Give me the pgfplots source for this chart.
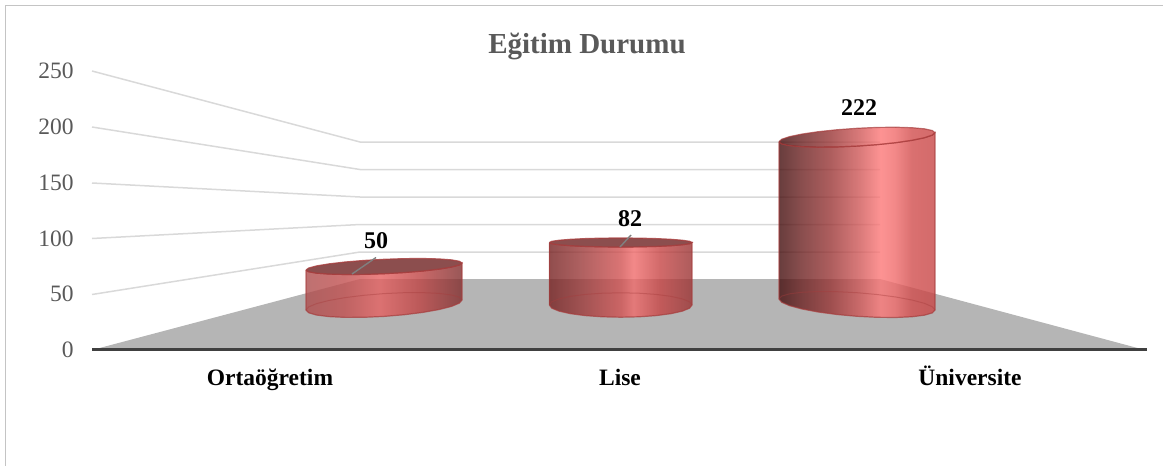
\documentclass[border=0pt]{standalone}
\usepackage{fontspec}
\setmainfont{Liberation Serif}
\usepackage{pgfplots}
\pgfplotsset{compat=1.18}
\definecolor{gridc}{HTML}{D9D9D9}
\definecolor{floorc}{HTML}{B5B5B5}
\definecolor{axisc}{HTML}{404040}
\definecolor{textc}{HTML}{595959}
\definecolor{framec}{HTML}{C4C4C4}
\definecolor{edgec}{HTML}{A63C3C}
\definecolor{topc}{HTML}{8C4E4E}
\definecolor{leadc}{HTML}{808080}
\pgfdeclarehorizontalshading{cylA}{100bp}{rgb(0bp)=(.68,.30,.30); rgb(25bp)=(.68,.30,.30); rgb(37.5bp)=(.76,.31,.31); rgb(48.5bp)=(.90,.38,.38); rgb(61.5bp)=(.74,.26,.26); rgb(75bp)=(.50,.18,.18); rgb(100bp)=(.50,.18,.18)}
\pgfdeclarehorizontalshading{cylB}{100bp}{rgb(0bp)=(.46,.13,.13); rgb(25bp)=(.46,.13,.13); rgb(35.5bp)=(.60,.22,.22); rgb(50bp)=(.82,.32,.32); rgb(54.5bp)=(.94,.42,.42); rgb(63.5bp)=(.78,.27,.27); rgb(75bp)=(.60,.20,.20); rgb(100bp)=(.60,.20,.20)}
\pgfdeclarehorizontalshading{cylC}{100bp}{rgb(0bp)=(.26,.05,.05); rgb(25bp)=(.26,.05,.05); rgb(32bp)=(.42,.13,.13); rgb(41.5bp)=(.60,.21,.21); rgb(51bp)=(.82,.35,.35); rgb(57.5bp)=(.99,.47,.47); rgb(62bp)=(.94,.42,.42); rgb(67.5bp)=(.82,.30,.30); rgb(75bp)=(.78,.27,.27); rgb(100bp)=(.78,.27,.27)}
\begin{document}
\begin{tikzpicture}
\path[use as bounding box] (0,0) rectangle (1163pt,466pt);
% perspective scene, in picture coordinates
\begin{axis}[
  at={(0,0)}, anchor=south west, scale only axis,
  width=1163pt, height=466pt,
  xmin=0, xmax=1163, ymin=0, ymax=466, y dir=reverse,
  hide axis,
  body/.style={fill opacity=.8, draw=edgec, draw opacity=.7, line width=1.2pt},
  back/.style={draw=edgec, draw opacity=.4, line width=1pt},
]
% frame
\addplot[framec, line width=1.6pt] coordinates {(5.5,466) (5.5,5.5) (1163,5.5)};
% floor
\addplot[fill=floorc, draw=none] coordinates {(92,350) (360,279) (880,279) (1145,350) (92,350)};
% gridlines
\addplot[gridc, line width=1.5pt] coordinates {(92,294.5) (360,252) (880,252)};
\addplot[gridc, line width=1.5pt] coordinates {(92,238.5) (360,224.5) (880,224.5)};
\addplot[gridc, line width=1.5pt] coordinates {(92,183) (360,197) (880,197)};
\addplot[gridc, line width=1.5pt] coordinates {(92,127) (360,169.5) (880,169.5)};
\addplot[gridc, line width=1.5pt] coordinates {(92,71) (360,142) (880,142)};
% Ortaogretim, 50
\addplot[shading=cylA, body] coordinates {(306,270) (306,310) (308.7,312.78) (316.5,315.03) (328.9,316.6) (345,317.37) (363.8,317.31) (384,316.4) (404.2,314.71) (423,312.37) (439.1,309.52) (451.5,306.37) (459.3,303.12) (462,300) (462,263) (459.3,264.98) (451.5,267.07) (439.1,269.12) (423,270.99) (404.2,272.55) (384,273.7) (363.8,274.37) (345,274.49) (328.9,274.06) (316.5,273.13) (308.7,271.74) (306,270)};
\addplot[back] coordinates {(306,310) (308.7,306.88) (316.5,303.63) (328.9,300.48) (345,297.63) (363.8,295.29) (384,293.6) (404.2,292.69) (423,292.63) (439.1,293.4) (451.5,294.97) (459.3,297.22) (462,300)};
\addplot[fill=topc, draw=edgec, draw opacity=.8, line width=1.2pt] coordinates {(306,270) (308.7,268.02) (316.5,265.93) (328.9,263.88) (345,262.01) (363.8,260.45) (384,259.3) (404.2,258.63) (423,258.51) (439.1,258.94) (451.5,259.87) (459.3,261.26) (462,263) (459.3,264.98) (451.5,267.07) (439.1,269.12) (423,270.99) (404.2,272.55) (384,273.7) (363.8,274.37) (345,274.49) (328.9,274.06) (316.5,273.13) (308.7,271.74) (306,270)};
% Lise, 82
\addplot[shading=cylB, body] coordinates {(549.4,242.5) (549.4,305) (551.8,308.16) (559,311.1) (570.3,313.63) (585.05,315.57) (602.2,316.79) (620.7,317.2) (639.2,316.79) (656.35,315.57) (671.1,313.63) (682.4,311.1) (689.6,308.16) (692,305) (692,242.5) (689.6,243.67) (682.4,244.75) (671.1,245.68) (656.35,246.4) (639.2,246.85) (620.7,247) (602.2,246.85) (585.05,246.4) (570.3,245.68) (559,244.75) (551.8,243.67) (549.4,242.5)};
\addplot[back] coordinates {(549.4,305) (551.8,301.84) (559,298.9) (570.3,296.37) (585.05,294.43) (602.2,293.21) (620.7,292.8) (639.2,293.21) (656.35,294.43) (671.1,296.37) (682.4,298.9) (689.6,301.84) (692,305)};
\addplot[fill=topc, draw=edgec, draw opacity=.8, line width=1.2pt] coordinates {(549.4,242.5) (551.8,241.33) (559,240.25) (570.3,239.32) (585.05,238.6) (602.2,238.15) (620.7,238) (639.2,238.15) (656.35,238.6) (671.1,239.32) (682.4,240.25) (689.6,241.33) (692,242.5) (689.6,243.67) (682.4,244.75) (671.1,245.68) (656.35,246.4) (639.2,246.85) (620.7,247) (602.2,246.85) (585.05,246.4) (570.3,245.68) (559,244.75) (551.8,243.67) (549.4,242.5)};
% Universite, 222
\addplot[shading=cylC, body] coordinates {(779,141.7) (779,299) (781.7,302.25) (789.5,305.64) (801.9,308.95) (818,311.97) (836.8,314.48) (857,316.3) (877.2,317.32) (896,317.47) (912.1,316.73) (924.5,315.16) (932.3,312.87) (935,310) (935,132.7) (932.3,135.16) (924.5,137.75) (912.1,140.31) (896,142.66) (877.2,144.63) (857,146.1) (836.8,146.97) (818,147.16) (801.9,146.67) (789.5,145.55) (781.7,143.86) (779,141.7)};
\addplot[back] coordinates {(779,299) (781.7,296.13) (789.5,293.84) (801.9,292.27) (818,291.53) (836.8,291.68) (857,292.7) (877.2,294.52) (896,297.03) (912.1,300.05) (924.5,303.36) (932.3,306.75) (935,310)};
\addplot[shading=cylC, body] coordinates {(779,141.7) (781.7,139.24) (789.5,136.65) (801.9,134.09) (818,131.74) (836.8,129.77) (857,128.3) (877.2,127.43) (896,127.24) (912.1,127.73) (924.5,128.85) (932.3,130.54) (935,132.7) (932.3,135.16) (924.5,137.75) (912.1,140.31) (896,142.66) (877.2,144.63) (857,146.1) (836.8,146.97) (818,147.16) (801.9,146.67) (789.5,145.55) (781.7,143.86) (779,141.7)};
% data label leaders
\addplot[leadc, line width=1.4pt] coordinates {(352,274) (376,257.5)};
\addplot[leadc, line width=1.4pt] coordinates {(620,247) (631,235)};
% data labels
\addplot[draw=none, mark=none, point meta=explicit symbolic,
  nodes near coords, nodes near coords style={anchor=center, inner sep=0pt, font=\fontsize{24}{28}\selectfont\bfseries, text=black}]
  table[meta=label] {
x y label
376 241 50
630 219 82
859 108 222
};
\end{axis}
% value axis and categories
\begin{axis}[
  at={(92pt,116pt)}, anchor=south west, scale only axis,
  width=1055pt, height=279pt,
  xmin=-0.5086, xmax=2.5057, ymin=0, ymax=250,
  axis x line=bottom, axis y line=left,
  x axis line style={line width=3pt, color=axisc, -},
  y axis line style={draw=none, -},
  tick style={draw=none},
  xtick={0,1,2}, xticklabels={Ortaöğretim,Lise,Üniversite},
  ytick={0,50,100,150,200,250},
  /pgf/number format/assume math mode=true,
  yticklabel style={font=\fontsize{23.5}{28}\selectfont, text=textc, anchor=east, inner sep=0pt, xshift=-16pt},
  xticklabel style={font=\fontsize{23.5}{28}\selectfont\bfseries, text=black, anchor=base, inner sep=0pt, yshift=-33pt},
  title={Eğitim Durumu},
  title style={font=\fontsize{29}{34}\selectfont\bfseries, text=textc, at={(0.4692,1.068)}, anchor=center, inner sep=0pt, yshift=0pt},
]
\addplot[draw=none, mark=none] coordinates {(0,50) (1,82) (2,222)};
\end{axis}
\end{tikzpicture}
\end{document}
